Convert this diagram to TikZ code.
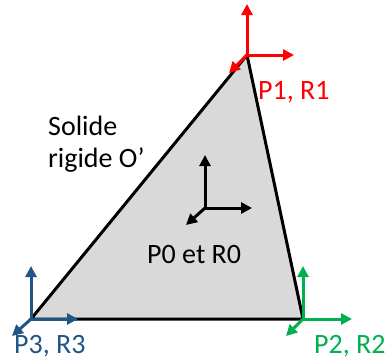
\documentclass[tikz,border=0pt]{standalone}
\usepackage{fontspec}
\setmainfont{Carlito}
\usetikzlibrary{arrows.meta}
\definecolor{tri}{HTML}{D9D9D9}
\definecolor{cred}{HTML}{FF0000}
\definecolor{cgreen}{HTML}{00B050}
\definecolor{cblue}{HTML}{1F5587}
\tikzset{
  axis/.style={line width=3pt,-{Triangle[length=11pt,width=11pt]}},
  lbl/.style={font=\fontsize{28}{32}\selectfont,inner sep=0pt,anchor=base west},
}
\begin{document}
\begin{tikzpicture}[x=1pt,y=-1pt]
\useasboundingbox (0,0) rectangle (387,360);
% triangle vertices
\coordinate (P1) at (247,55);
\coordinate (P2) at (303,319);
\coordinate (P3) at (31,319);
\coordinate (P0) at (205,208);
\fill[tri] (P1) -- (P2) -- (P3) -- cycle;
\draw[line width=3pt,line join=miter] (P1) -- (P2) -- (P3) -- cycle;
% frame 1 (red)
\coordinate (P1u) at (247,4);
\coordinate (P1r) at (294,55);
\coordinate (P1d) at (229,73);
\draw[axis,cred] (P1) -- (P1u);
\draw[axis,cred] (P1) -- (P1r);
\draw[axis,cred] (P1) -- (P1d);
% frame 2 (green)
\coordinate (P2u) at (303,266);
\coordinate (P2r) at (352,319);
\coordinate (P2d) at (286,336);
\draw[axis,cgreen] (P2) -- (P2u);
\draw[axis,cgreen] (P2) -- (P2r);
\draw[axis,cgreen] (P2) -- (P2d);
% frame 3 (blue)
\coordinate (P3u) at (31,266);
\coordinate (P3r) at (78,319);
\coordinate (P3d) at (12,336);
\draw[axis,cblue] (P3) -- (P3u);
\draw[axis,cblue] (P3) -- (P3r);
\draw[axis,cblue] (P3) -- (P3d);
% frame 0 (black)
\coordinate (P0u) at (205,155);
\coordinate (P0r) at (252,208);
\coordinate (P0d) at (186,225);
\draw[axis,black] (P0) -- (P0u);
\draw[axis,black] (P0) -- (P0r);
\draw[axis,black] (P0) -- (P0d);
% labels
\node[lbl,cred] (L1) at (258,99) {P1, R1};
\node[lbl,cgreen] (L2) at (314,353) {P2, R2};
\node[lbl,cblue] (L3) at (14,353) {P3, R3};
\node[lbl] (L0) at (147,263) {P0 et R0};
\node[lbl] (S1) at (48,135) {Solide};
\node[lbl] (S2) at (48,167) {rigide O’};
\end{tikzpicture}
\end{document}
